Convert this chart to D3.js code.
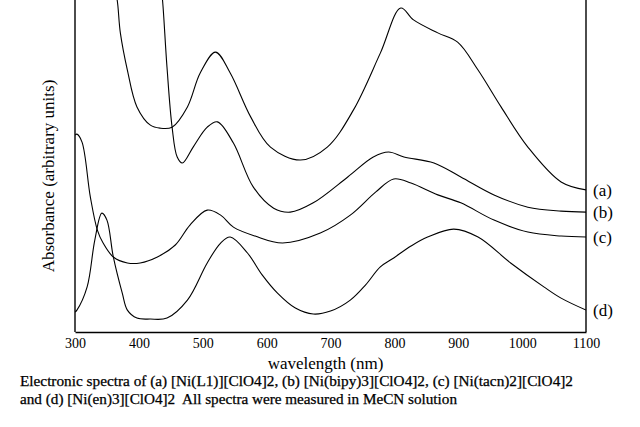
<!DOCTYPE html>
<html lang="en">
<meta charset="utf-8">
<title>Electronic spectra</title>
<script src="https://d3js.org/d3.v7.min.js"></script>
<body>
<figure id="chart"></figure>
</body>

<style>
body {
  margin: 0;
  background-color: white;
}
#chart {
  margin: 0;
}
.caption {
  white-space: pre;
  stroke: black;
  stroke-width: 0.25px;
}
.spectrum {
  fill: none;
  stroke: black;
  stroke-width: 1.1px;
}
.frame {
  stroke: black;
  stroke-width: 1.4px;
}
</style>

<script>
    // Wavelength (nm) / absorbance (arbitrary units, 0-100)
    const wlA = [362, 366, 371, 382, 397, 418, 433, 452, 476, 496, 520, 543, 575, 606, 653, 695, 736, 778, 810, 830, 868, 899, 931, 967, 1009, 1061, 1100];
    const absA = [103, 100, 90.1, 78.9, 67.8, 62.3, 61.4, 61.7, 67.8, 78.0, 84.3, 78.0, 64.8, 55.7, 51.8, 55.7, 66.9, 84.0, 97.6, 94.0, 90.1, 87.3, 78.9, 67.8, 55.7, 45.2, 42.8];

    const wlB = [435, 437, 444, 452, 460, 468, 485, 507, 523, 548, 579, 611, 637, 673, 727, 767, 791, 815, 862, 904, 956, 1009, 1061, 1100];
    const absB = [103, 100, 79.8, 61.7, 52.7, 50.9, 55.7, 61.7, 63.3, 56.9, 43.7, 37.3, 36.1, 38.9, 46.7, 52.7, 54.2, 52.7, 50.9, 46.7, 41.3, 37.6, 36.4, 36.1];

    const wlC = [300, 303, 311, 324, 335, 344, 360, 382, 402, 429, 457, 480, 507, 528, 548, 582, 625, 684, 731, 771, 799, 826, 868, 904, 956, 1009, 1061, 1100];
    const absC = [59.3, 59.6, 57.2, 40.7, 30.7, 26.8, 22.6, 20.8, 20.8, 22.6, 26.2, 32.2, 36.7, 35.2, 31.6, 28.9, 26.8, 29.8, 35.2, 42.2, 46.1, 44.9, 41.3, 38.9, 33.7, 30.1, 28.9, 28.6];

    const wlD = [300, 303, 319, 331, 342, 350, 360, 374, 382, 397, 418, 444, 476, 507, 528, 543, 570, 593, 617, 645, 673, 700, 731, 755, 778, 799, 826, 852, 893, 931, 982, 1034, 1061, 1100];
    const absD = [6.0, 6.6, 13.6, 27.7, 35.8, 33.7, 22.6, 11.7, 6.6, 4.2, 3.9, 4.2, 9.6, 20.8, 26.8, 28.6, 23.8, 17.2, 11.7, 7.2, 5.4, 6.3, 9.6, 14.2, 19.6, 22.3, 25.9, 28.6, 31.0, 28.6, 20.8, 13.6, 10.2, 6.6];

    const seriesLabels = ["(a)", "(b)", "(c)", "(d)"];
    const xTicks = [300, 400, 500, 600, 700, 800, 900, 1000, 1100];
    const captionLines = [
      "Electronic spectra of (a) [Ni(L1)][ClO4]2, (b) [Ni(bipy)3][ClO4]2, (c) [Ni(tacn)2][ClO4]2",
      "and (d) [Ni(en)3][ClO4]2  All spectra were measured in MeCN solution"
    ];

    const serifFont = "'Liberation Serif', 'Times New Roman', serif";

    let margin = {top: 0, right: 54, bottom: 95, left: 75},
        width = 640 - margin.left - margin.right,
        height = 427 - margin.top - margin.bottom;

    let svg = d3.select("#chart")
      .append("svg")
        .attr("width", 640)
        .attr("height", 427)
        .style("font-family", serifFont)
      .append("g")
        .attr("transform", "translate(" + margin.left + "," + margin.top + ")");

    let x = d3.scaleLinear()
      .domain([300, 1100])
      .range([0, width]);

    let y = d3.scaleLinear()
      .domain([0, 100])
      .range([height, 0]);

    // clip so the steep starts of (a) and (b) run off the top edge
    svg.append("clipPath")
        .attr("id", "plotClip")
      .append("rect")
        .attr("x", 0)
        .attr("y", 0)
        .attr("width", width)
        .attr("height", height);

    // ---------------------------//
    //       AXES                 //
    // ---------------------------//
    svg.append("line").attr("class", "frame")
      .attr("x1", 0).attr("x2", 0).attr("y1", 0).attr("y2", height);
    svg.append("line").attr("class", "frame")
      .attr("x1", width).attr("x2", width).attr("y1", 0).attr("y2", height);

    let xAxis = svg.append("g")
      .attr("transform", "translate(0," + height + ")")
      .call(d3.axisBottom(x).tickValues(xTicks).tickSize(0).tickPadding(6).tickFormat(d3.format("d")))
      .attr("font-family", null);
    xAxis.select(".domain").attr("stroke-width", 1.4);
    xAxis.selectAll("text")
      .style("font-family", serifFont)
      .style("font-size", "14px")
      .attr("fill", "black");

    svg.append("text")
      .attr("text-anchor", "middle")
      .attr("x", width / 2 - 5)
      .attr("y", height + 37)
      .style("font-family", serifFont)
      .style("font-size", "17px")
      .text("wavelength (nm)");

    svg.append("text")
      .attr("text-anchor", "middle")
      .attr("transform", "rotate(-90)")
      .attr("x", -176)
      .attr("y", -21)
      .style("font-family", serifFont)
      .style("font-size", "17px")
      .text("Absorbance (arbitrary units)");

    // ---------------------------//
    //       SPECTRA              //
    // ---------------------------//
    let series = [
      {wl: wlA, abs: absA},
      {wl: wlB, abs: absB},
      {wl: wlC, abs: absC},
      {wl: wlD, abs: absD}
    ];

    let line = d3.line()
      .x(d => x(d[0]))
      .y(d => y(d[1]))
      .curve(d3.curveCatmullRom.alpha(0.5));

    svg.append("g")
      .attr("clip-path", "url(#plotClip)")
      .selectAll("path")
      .data(series)
      .enter()
      .append("path")
        .attr("class", "spectrum")
        .attr("d", s => line(d3.zip(s.wl, s.abs)));

    // series tags next to the right axis
    svg.selectAll(".tag")
      .data(series)
      .enter()
      .append("text")
        .attr("class", "tag")
        .attr("x", width + 7)
        .attr("y", s => y(s.abs[s.abs.length - 1]))
        .attr("dy", "0.33em")
        .style("font-family", serifFont)
        .style("font-size", "17px")
        .text((s, i) => seriesLabels[i]);

    // ---------------------------//
    //       CAPTION              //
    // ---------------------------//
    let captionWidths = [553, 437];
    d3.select("svg").selectAll(".caption")
      .data(captionLines)
      .enter()
      .append("text")
        .attr("class", "caption")
        .attr("x", 20)
        .attr("y", (d, i) => 386 + i * 18)
        .attr("textLength", (d, i) => captionWidths[i])
        .attr("lengthAdjust", "spacingAndGlyphs")
        .style("font-family", serifFont)
        .style("font-size", "14px")
        .text(d => d);
</script>
</html>
